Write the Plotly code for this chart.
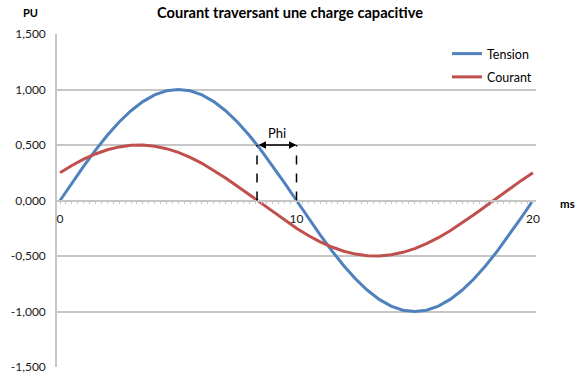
import plotly.graph_objects as go

# ---- data ----
temps_ms = [i * 0.5 for i in range(41)]
tension = [0.000, 0.156, 0.309, 0.454, 0.588, 0.707, 0.809, 0.891, 0.951, 0.988,
           1.000, 0.988, 0.951, 0.891, 0.809, 0.707, 0.588, 0.454, 0.309, 0.156,
           0.000, -0.156, -0.309, -0.454, -0.588, -0.707, -0.809, -0.891, -0.951, -0.988,
           -1.000, -0.988, -0.951, -0.891, -0.809, -0.707, -0.588, -0.454, -0.309, -0.156,
           0.000]
courant = [0.250, 0.315, 0.372, 0.419, 0.457, 0.483, 0.497, 0.499, 0.489, 0.467,
           0.433, 0.389, 0.335, 0.272, 0.203, 0.129, 0.052, -0.026, -0.104, -0.179,
           -0.250, -0.315, -0.372, -0.419, -0.457, -0.483, -0.497, -0.499, -0.489, -0.467,
           -0.433, -0.389, -0.335, -0.272, -0.203, -0.129, -0.052, 0.026, 0.104, 0.179,
           0.250]
y_tick_vals = [-1.5, -1.0, -0.5, 0.0, 0.5, 1.0, 1.5]
y_tick_text = ["-1,500", "-1,000", "-0,500", "0,000", "0,500", "1,000", "1,500"]
x_tick_vals = [0, 10, 20]
x_tick_text = ["0", "10", "20"]
phi_start, phi_end, phi_level = 8.33, 10.0, 0.5

FONT = "Lato"
BLUE = "#4F81BD"
RED = "#C0504D"
GRID = "#C6C6C6"
TXT = "#1a1a1a"

fig = go.Figure()
fig.add_trace(go.Scatter(x=temps_ms, y=tension, mode="lines", name="Tension",
                         legendgroup="a", line=dict(color=BLUE, width=3)))
fig.add_trace(go.Scatter(x=temps_ms, y=courant, mode="lines", name="Courant",
                         legendgroup="b", line=dict(color=RED, width=3)))

# dashed markers for phase
for xv in (phi_start, phi_end):
    fig.add_shape(type="line", x0=xv, x1=xv, y0=0, y1=phi_level, xref="x", yref="y",
                  line=dict(color="black", width=1.5, dash="dash"))
fig.add_annotation(x=phi_end, y=phi_level, ax=phi_start, ay=phi_level,
                   xref="x", yref="y", axref="x", ayref="y", text="",
                   showarrow=True, arrowhead=2, arrowside="end+start",
                   arrowsize=1, arrowwidth=1.5, arrowcolor="black")
fig.add_annotation(x=(phi_start + phi_end) / 2, y=phi_level, yshift=12, text="Phi",
                   showarrow=False, xref="x", yref="y",
                   font=dict(family=FONT, size=13, color="black"))

fig.add_annotation(text="<b>PU</b>", x=-27 / 479, y=1 + 21 / 333, xref="paper", yref="paper",
                   showarrow=False, xanchor="center", yanchor="middle",
                   font=dict(family=FONT, size=11, color="black"))
fig.add_annotation(text="<b>ms</b>", x=1 + 31 / 479, y=0.5 - 3 / 333, xref="paper", yref="paper",
                   showarrow=False, xanchor="center", yanchor="middle",
                   font=dict(family=FONT, size=11.5, color="black"))

fig.update_layout(
    width=585, height=381,
    margin=dict(l=57, r=49, t=34, b=14),
    paper_bgcolor="white", plot_bgcolor="white",
    title=dict(text="<b>Courant traversant une charge capacitive</b>",
               x=290 / 585, xanchor="center", y=1 - 13 / 381, yanchor="middle",
               font=dict(family=FONT, size=14.6, color="black")),
    legend=dict(x=1 + 1 / 479, xanchor="right", y=1 - 5 / 333, yanchor="top",
                font=dict(family=FONT, size=12.5, color="black"),
                bgcolor="rgba(0,0,0,0)", tracegroupgap=4, traceorder="grouped"),
    showlegend=True,
)

fig.update_yaxes(range=[-1.5, 1.5], tickvals=y_tick_vals, ticktext=y_tick_text,
                 showgrid=True, gridcolor=GRID, gridwidth=1.5, zeroline=False,
                 showline=True, linecolor=GRID, linewidth=1.5, ticks="",
                 ticklabelstandoff=7, automargin=False,
                 tickfont=dict(family=FONT, size=12, color=TXT))
fig.update_xaxes(range=[-0.13, 20.13], tickvals=x_tick_vals, ticktext=x_tick_text,
                 showgrid=False, zeroline=False, showline=True, linecolor=GRID,
                 linewidth=1.5, anchor="free", position=0.5, automargin=False,
                 ticks="outside", ticklen=3, tickcolor=GRID, ticklabelstandoff=4,
                 minor=dict(dtick=0.25, tick0=0, ticks="outside", ticklen=3,
                            tickcolor=GRID, showgrid=False),
                 tickfont=dict(family=FONT, size=12, color=TXT))

fig.write_html("out.html", config={"displayModeBar": False},
               post_script="document.body.style.margin='0';")
